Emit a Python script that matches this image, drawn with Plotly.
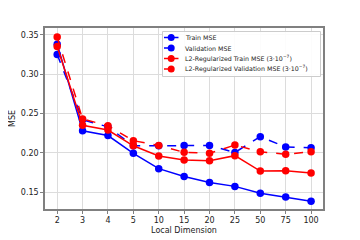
import plotly.graph_objects as go

dims = ["2", "3", "4", "5", "10", "15", "20", "25", "50", "75", "100"]
train_mse = [0.338, 0.228, 0.222, 0.1995, 0.180, 0.170, 0.1625, 0.1575, 0.1487, 0.144, 0.1386]
val_mse = [0.325, 0.242, 0.233, 0.209, 0.209, 0.2095, 0.2095, 0.2005, 0.2206, 0.2075, 0.2066]
l2_train_mse = [0.335, 0.235, 0.229, 0.209, 0.196, 0.191, 0.190, 0.1965, 0.177, 0.1774, 0.1745]
l2_val_mse = [0.347, 0.243, 0.2345, 0.2155, 0.2095, 0.2007, 0.1995, 0.210, 0.2015, 0.1983, 0.2015]

series = [
    ("Train MSE", train_mse, "#0000ff", "solid"),
    ("Validation MSE", val_mse, "#0000ff", "dash"),
    ("L2-Regularized Train MSE (3·10<sup>−7</sup>)", l2_train_mse, "#ff0000", "solid"),
    ("L2-Regularized Validation MSE (3·10<sup>−7</sup>)", l2_val_mse, "#ff0000", "dash"),
]

# page body has an 8px default margin, so the figure is drawn 8px smaller
OFF = 8
W, H = 360 - OFF, 240 - OFF
ML, MT = 45 - OFF, 28 - OFF
MR = W - ML - 278
MB = H - MT - 181
PW, PH = W - ML - MR, H - MT - MB


# legend positions given in window pixels
def px(x):
    return (x - OFF - ML) / PW


def py(y):
    return (H - MB - (y - OFF)) / PH


fig = go.Figure()
for name, vals, color, dash in series:
    fig.add_trace(go.Scatter(
        x=dims, y=vals, name=name, mode="lines+markers",
        line=dict(color=color, width=1.5, dash=dash),
        marker=dict(color=color, size=7.5),
        showlegend=False,
    ))

# custom compact legend (matplotlib-like)
shapes = [dict(type="rect", xref="paper", yref="paper",
               x0=px(162.5), x1=px(320.5), y0=py(76.5), y1=py(31.5),
               line=dict(color="#cccccc", width=1), fillcolor="rgba(255,255,255,0.9)",
               layer="above")]
annotations = []
rows = [37.5, 48, 58.5, 69]
for (name, vals, color, dash), ry in zip(series, rows):
    shapes.append(dict(type="line", xref="paper", yref="paper",
                       x0=px(164), x1=px(178.5), y0=py(ry), y1=py(ry),
                       line=dict(color=color, width=1.5, dash="dash" if dash == "dash" else "solid"),
                       layer="above"))
    shapes.append(dict(type="circle", xref="paper", yref="paper",
                       xsizemode="pixel", ysizemode="pixel",
                       xanchor=px(171.2), yanchor=py(ry),
                       x0=-3.5, x1=3.5, y0=-3.5, y1=3.5,
                       line=dict(color=color, width=0), fillcolor=color, layer="above"))
    annotations.append(dict(xref="paper", yref="paper", x=px(182.5), y=py(ry),
                            xanchor="left", yanchor="middle", showarrow=False,
                            text=name, font=dict(family="DejaVu Sans", size=6.3, color="#222")))

axis_common = dict(
    showgrid=True, gridcolor="#dcdcdc", gridwidth=1.2,
    showline=True, linecolor="#808080", linewidth=1.5, mirror=True,
    ticks="outside", tickcolor="#808080", ticklen=3,
    tickfont=dict(family="DejaVu Sans", size=8, color="#222"),
    zeroline=False, automargin=False,
)

fig.update_layout(
    width=W, height=H,
    margin=dict(l=ML, r=MR, t=MT, b=MB),
    paper_bgcolor="white", plot_bgcolor="white",
    font=dict(family="DejaVu Sans", size=8, color="#222"),
    showlegend=False,
    shapes=shapes,
    annotations=annotations,
    xaxis=dict(type="category", range=[-0.48, 10.47],
               title=dict(text="Local Dimension", font=dict(size=8), standoff=3),
               **axis_common),
    yaxis=dict(range=[0.1288, 0.3585], tickvals=[0.15, 0.20, 0.25, 0.30, 0.35],
               tickformat=".2f",
               title=dict(text="MSE", font=dict(size=8), standoff=11),
               **axis_common),
)

fig.write_html("out.html")
